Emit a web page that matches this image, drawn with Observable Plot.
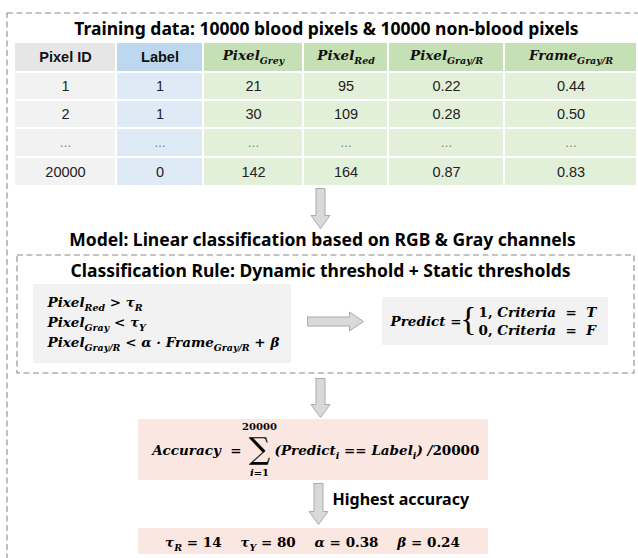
<!DOCTYPE html>
<html><head><meta charset="utf-8">
<script src="https://cdn.jsdelivr.net/npm/d3@7"></script>
<script src="https://cdn.jsdelivr.net/npm/@observablehq/plot@0.6"></script>
<style>
html,body{margin:0;padding:0;background:#fff;}
#chart svg{display:block;}
#chart text{white-space:pre;}
</style>
</head><body><div id="chart"></div>
<script>
// ---------- data ----------
const titleTraining = "Training data: 10000 blood pixels & 10000 non-blood pixels";
const titleModel = "Model: Linear classification based on RGB & Gray channels";
const titleRule = "Classification Rule: Dynamic threshold + Static thresholds";
const columnHeaders = ["Pixel ID", "Label", "Pixel_{Grey}", "Pixel_{Red}", "Pixel_{Gray/R}", "Frame_{Gray/R}"];
const pixelIds   = ["1", "2", "…", "20000"];
const labels     = ["1", "1", "…", "0"];
const pixelGrey  = ["21", "30", "…", "142"];
const pixelRed   = ["95", "109", "…", "164"];
const pixelGrayR = ["0.22", "0.28", "…", "0.87"];
const frameGrayR = ["0.44", "0.50", "…", "0.83"];
const ruleLines = ["Pixel_{Red} > τ_{R}", "Pixel_{Gray} < τ_{Y}", "Pixel_{Gray/R} < α · Frame_{Gray/R} + β"];
const predictLabel = "Predict =";
const predictCases = ["1, Criteria  =  T", "0, Criteria  =  F"];
const accuracyLeft = "Accuracy  =";
const accuracyRight = "(Predict_{i} == Label_{i}) /20000";
const sumUpper = "20000";
const sumLower = "i=1";
const highestLabel = "Highest accuracy";
const paramNames  = ["τ_{R}", "τ_{Y}", "α", "β"];
const paramValues = ["14", "80", "0.38", "0.24"];

// ---------- layout ----------
const W = 638, H = 558;
const colEdges = [14, 116, 203, 303, 388, 504, 637];
const rowEdges = [42, 72, 100, 128, 157, 186];
const SANS = "'Noto Sans', 'DejaVu Sans', sans-serif";
const ARIAL = "'Liberation Sans', Arial, sans-serif";
const MATH = "'DejaVu Serif', 'Liberation Serif', serif";
const MS = 13.5;

const tableCols = [pixelIds, labels, pixelGrey, pixelRed, pixelGrayR, frameGrayR];
const cells = [];
columnHeaders.forEach((h, c) => {
  cells.push({c, r: 0, text: h, header: true});
  tableCols[c].forEach((v, i) => cells.push({c, r: i + 1, text: v, header: false}));
});
const palette = [["#e7e6e6", "#f2f2f2"], ["#bdd7ee", "#deebf7"], ["#c5e0b4", "#e2f0d9"]];
const grp = c => (c === 0 ? 0 : c === 1 ? 1 : 2);
const cx = d => (colEdges[d.c] + colEdges[d.c + 1]) / 2;
const cy = d => (rowEdges[d.r] + rowEdges[d.r + 1]) / 2;

function downArrow(x, top, headStart, tip) {
  return [[x - 4.5, top], [x + 4.5, top], [x + 4.5, headStart], [x + 9.5, headStart], [x, tip],
          [x - 9.5, headStart], [x - 4.5, headStart], [x - 4.5, top]].map(([x, y]) => ({x, y}));
}
function rightArrow(y, left, headStart, tip) {
  return [[left, y - 4.5], [headStart, y - 4.5], [headStart, y - 9.5], [tip, y], [headStart, y + 9.5],
          [headStart, y + 4.5], [left, y + 4.5], [left, y - 4.5]].map(([x, y]) => ({x, y}));
}
const arrows = [
  downArrow(320, 188, 215, 228),
  downArrow(320, 378, 404, 417),
  downArrow(318, 483, 511, 524),
  rightArrow(321, 307, 349, 363)
];

const boxes = [
  {x1: 33, x2: 291, y1: 284, y2: 363, fill: "#f2f2f2"},
  {x1: 382, x2: 608, y1: 297, y2: 345, fill: "#f2f2f2"},
  {x1: 138, x2: 488, y1: 419, y2: 480, fill: "#fbe7e1"},
  {x1: 138, x2: 488, y1: 528, y2: 554, fill: "#fbe7e1"}
];
const dashed = [
  {x1: 7, x2: 700, y1: 13, y2: 700},
  {x1: 17, x2: 634, y1: 255, y2: 373}
];

const paramsLine = paramNames.map((n, i) => `${n} = ${paramValues[i]}`).join("    ");
const mathText = {fontFamily: MATH, fontWeight: 700, fontStyle: "italic", fontSize: MS, fill: "#000", className: "rich"};

const chart = Plot.plot({
  width: W, height: H,
  margin: 0, marginTop: 0, marginRight: 0, marginBottom: 0, marginLeft: 0,
  x: {type: "identity", axis: null},
  y: {type: "identity", axis: null},
  color: {type: "identity"},
  style: {background: "#fff", overflow: "hidden"},
  marks: [
    Plot.rect(dashed, {x1: "x1", x2: "x2", y1: "y1", y2: "y2", fill: "none", stroke: "#8a8a8a", strokeWidth: 1.1, strokeDasharray: "6,3.5"}),
    Plot.rect(cells, {x1: d => colEdges[d.c], x2: d => colEdges[d.c + 1], y1: d => rowEdges[d.r], y2: d => rowEdges[d.r + 1],
      fill: d => palette[grp(d.c)][d.header ? 0 : 1], inset: 1}),
    Plot.rect(boxes, {x1: "x1", x2: "x2", y1: "y1", y2: "y2", fill: "fill"}),
    ...arrows.map(a => Plot.line(a, {x: "x", y: "y", fill: "#d9d9d9", stroke: "#ababab", strokeWidth: 1, curve: "linear-closed"})),
    // titles
    Plot.text([titleTraining], {x: () => 326, y: () => 29, text: d => d, fontFamily: SANS, fontWeight: 700, fontSize: 17.5, fill: "#000"}),
    Plot.text([titleModel], {x: () => 322, y: () => 240, text: d => d, fontFamily: SANS, fontWeight: 700, fontSize: 17.5, fill: "#000"}),
    Plot.text([titleRule], {x: () => 320, y: () => 271, text: d => d, fontFamily: SANS, fontWeight: 700, fontSize: 17.5, fill: "#000"}),
    Plot.text([highestLabel], {x: () => 332, y: () => 499, text: d => d, textAnchor: "start", fontFamily: SANS, fontWeight: 700, fontSize: 16, fill: "#000"}),
    // table header text
    Plot.text(cells.filter(d => d.header && d.c < 2), {x: cx, y: cy, text: "text", fontFamily: ARIAL, fontWeight: 700, fontSize: 14.5, fill: "#111"}),
    Plot.text(cells.filter(d => d.header && d.c >= 2), {x: cx, y: d => cy(d) - 2, text: "text", ...mathText, fill: "#111"}),
    Plot.text(cells.filter(d => !d.header && d.text !== "…"), {x: cx, y: cy, text: "text", fontFamily: ARIAL, fontSize: 14.5, fill: "#222"}),
    Plot.text(cells.filter(d => !d.header && d.text === "…"), {x: cx, y: cy, text: "text", fontFamily: ARIAL, fontSize: 12, fill: "#777"}),
    // rules
    Plot.text(ruleLines, {x: () => 47, y: (d, i) => 302 + i * 20, text: d => d, textAnchor: "start", ...mathText}),
    // predict
    Plot.text([predictLabel], {x: () => 461, y: () => 321, text: d => d, textAnchor: "end", ...mathText}),
    Plot.text(["{"], {x: () => 468, y: () => 319, text: d => d, fontFamily: "'Liberation Serif', serif", fontWeight: 400, fontSize: 34, fill: "#000"}),
    Plot.text(predictCases, {x: () => 478, y: (d, i) => 312 + i * 18, text: d => d, textAnchor: "start", ...mathText}),
    // accuracy
    Plot.text([accuracyLeft], {x: () => 241, y: () => 450, text: d => d, textAnchor: "end", ...mathText}),
    Plot.text(["∑"], {x: () => 259, y: () => 449, text: d => d, fontFamily: "'DejaVu Serif', serif", fontSize: 30, fill: "#000"}),
    Plot.text([sumUpper], {x: () => 259, y: () => 426, text: d => d, fontFamily: MATH, fontWeight: 700, fontSize: 10, fill: "#000"}),
    Plot.text([sumLower], {x: () => 259, y: () => 472, text: d => d, ...mathText, fontSize: 10}),
    Plot.text([accuracyRight], {x: () => 274, y: () => 450, text: d => d, textAnchor: "start", ...mathText}),
    // params
    Plot.text([paramsLine], {x: () => 312, y: () => 542, text: d => d, ...mathText})
  ]
});

// rich text: _{...} subscripts, digits upright
const NS = "http://www.w3.org/2000/svg";
chart.querySelectorAll(".rich text").forEach(t => {
  const s = t.textContent;
  const parts = [];
  const re = /_\{([^}]*)\}/g;
  let last = 0, m;
  while ((m = re.exec(s))) {
    if (m.index > last) parts.push({t: s.slice(last, m.index), sub: false});
    parts.push({t: m[1], sub: true});
    last = re.lastIndex;
  }
  if (last < s.length) parts.push({t: s.slice(last), sub: false});
  t.textContent = "";
  let shifted = false;
  for (const p of parts) {
    const pieces = p.t.split(/(\d[\d.,]*)/).filter(x => x);
    pieces.forEach((piece, k) => {
      const ts = document.createElementNS(NS, "tspan");
      ts.textContent = piece;
      if (/^\d/.test(piece)) ts.setAttribute("font-style", "normal");
      if (p.sub) ts.setAttribute("font-size", "70%");
      if (k === 0) {
        if (p.sub && !shifted) { ts.setAttribute("dy", "4"); shifted = true; }
        else if (!p.sub && shifted) { ts.setAttribute("dy", "-4"); shifted = false; }
      }
      t.appendChild(ts);
    });
  }
});

document.getElementById("chart").appendChild(chart);
</script>
</body></html>
